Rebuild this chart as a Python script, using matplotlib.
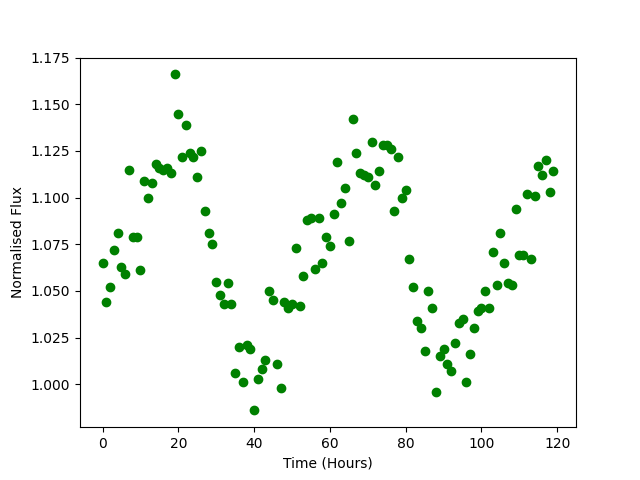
import numpy as np
import matplotlib
matplotlib.use("Agg")
import matplotlib.pyplot as plt

# hourly time stamps and normalised flux
time_hours = np.arange(0, 120)
flux = [
    1.065, 1.044, 1.052, 1.072, 1.081, 1.063, 1.059, 1.115, 1.079, 1.079,
    1.061, 1.109, 1.100, 1.108, 1.118, 1.116, 1.115, 1.116, 1.113, 1.166,
    1.145, 1.122, 1.139, 1.124, 1.122, 1.111, 1.125, 1.093, 1.081, 1.075,
    1.055, 1.048, 1.043, 1.054, 1.043, 1.006, 1.020, 1.001, 1.021, 1.019,
    0.986, 1.003, 1.008, 1.013, 1.050, 1.045, 1.011, 0.998, 1.044, 1.041,
    1.043, 1.073, 1.042, 1.058, 1.088, 1.089, 1.062, 1.089, 1.065, 1.079,
    1.074, 1.091, 1.119, 1.097, 1.105, 1.077, 1.142, 1.124, 1.113, 1.112,
    1.111, 1.130, 1.107, 1.114, 1.128, 1.128, 1.126, 1.093, 1.122, 1.100,
    1.104, 1.067, 1.052, 1.034, 1.030, 1.018, 1.050, 1.041, 0.996, 1.015,
    1.019, 1.011, 1.007, 1.022, 1.033, 1.035, 1.001, 1.016, 1.030, 1.039,
    1.041, 1.050, 1.041, 1.071, 1.053, 1.081, 1.065, 1.054, 1.053, 1.094,
    1.069, 1.069, 1.102, 1.067, 1.101, 1.117, 1.112, 1.120, 1.103, 1.114,
]

plt.figure(figsize=(6.4, 4.8), dpi=100)
plt.plot(time_hours, flux, 'o', color='green')
plt.xlabel('Time (Hours)')
plt.ylabel('Normalised Flux')
plt.savefig('out.png')
